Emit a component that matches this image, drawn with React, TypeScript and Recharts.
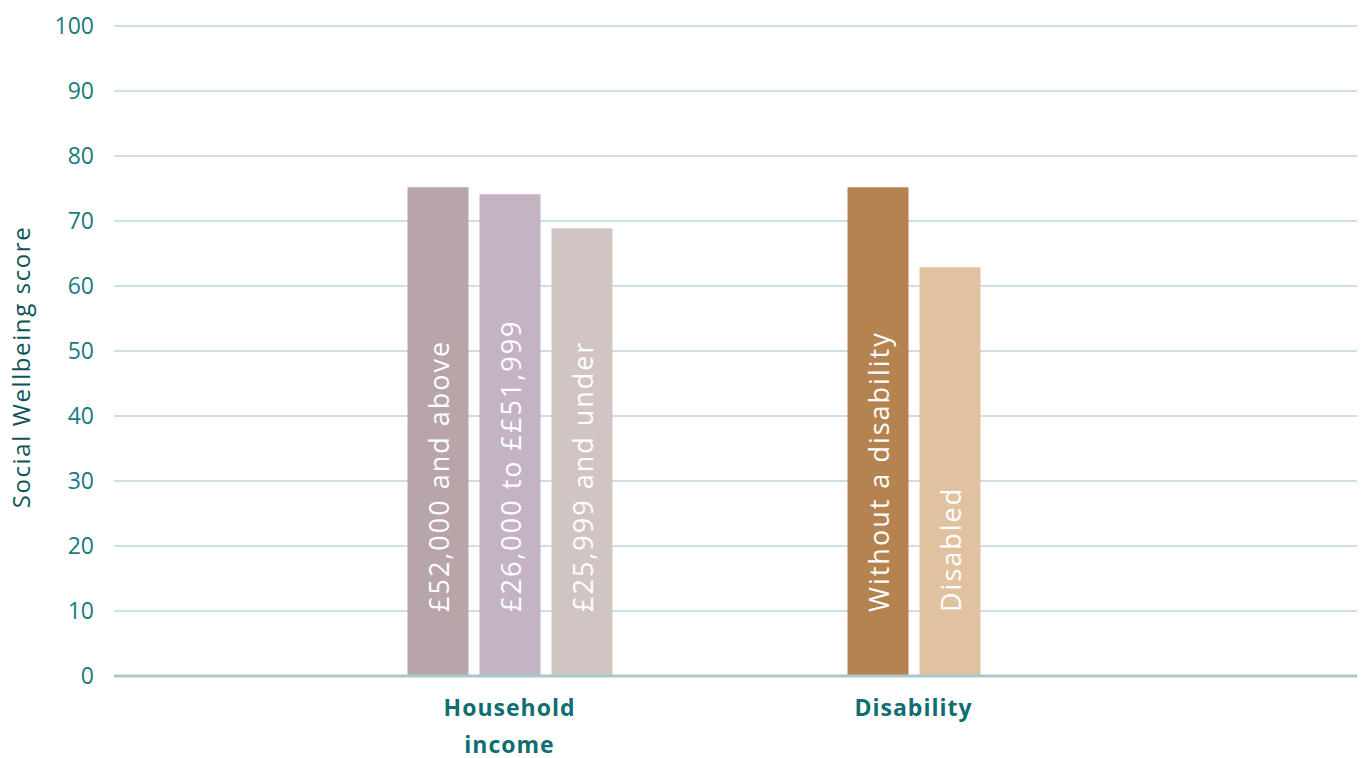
import { Bar, BarChart, CartesianGrid, Cell, LabelList, XAxis, YAxis } from "recharts";

const groups = ["Household income", "Disability"];
const incomeLabels = ["£52,000 and above", "£26,000 to ££51,999", "£25,999 and under"];
const incomeScores = [75.2, 74.1, 68.9];
const disabilityLabels = ["Without a disability", "Disabled"];
const disabilityScores = [75.2, 62.9];
const yTicks = [0, 10, 20, 30, 40, 50, 60, 70, 80, 90, 100];

const incomeColors = ["#b7a5a9", "#c4b3c3", "#d1c5c4"];
const disabilityColors = ["#b58350", "#e1c2a0"];

const FONT = "Open Sans";
const BAR = 61;
const GAP = 11;
const SLOTS = 3;

const groupLabels = [incomeLabels, disabilityLabels];
const groupScores = [incomeScores, disabilityScores];
const groupColors = [incomeColors, disabilityColors];

const data = groups.map((g, gi) => {
    const row: any = { group: g };
    groupScores[gi].forEach((v, i) => {
        row["v" + i] = v;
        row["n" + i] = groupLabels[gi][i];
    });
    return row;
});

// group label sits under the bars it has, one word per line
const GroupTick = (props: any) => {
    const { x, y, payload, index } = props;
    const count = groupScores[index] ? groupScores[index].length : SLOTS;
    const shift = -((SLOTS - count) * (BAR + GAP)) / 2;
    const words = String(payload.value).split(" ");
    return (
        <text
            x={x + shift}
            y={y + 32}
            textAnchor="middle"
            fill="#0e6e70"
            fontSize={23}
            fontWeight={700}
            letterSpacing={1}
            fontFamily={FONT}
        >
            {words.map((w, i) => (
                <tspan key={i} x={x + shift} dy={i === 0 ? 0 : 37}>
                    {w}
                </tspan>
            ))}
        </text>
    );
};

const BarText = (props: any) => {
    const { x, y, width, height, value } = props;
    if (value == null) return null;
    const cx = x + width / 2;
    const by = y + height - 64;
    return (
        <text
            x={cx}
            y={by}
            transform={`rotate(-90 ${cx} ${by})`}
            textAnchor="start"
            dominantBaseline="central"
            fill="#ffffff"
            fontSize={27}
            letterSpacing={2}
            fontFamily={FONT}
        >
            {value}
        </text>
    );
};

export default function App() {
    return (
        <BarChart
            width={1357}
            height={750}
            data={data}
            margin={{ top: 18, right: 3, left: 0, bottom: 0 }}
            barSize={BAR}
            barGap={GAP}
        >
            <CartesianGrid vertical={false} stroke="#bdd6d8" strokeWidth={1.5} />
            <XAxis
                dataKey="group"
                height={82}
                padding={{ left: 175.5, right: 192.5 }}
                axisLine={{ stroke: "#a9c7cb", strokeWidth: 3 }}
                tickLine={false}
                tick={<GroupTick />}
                interval={0}
            />
            <YAxis
                width={106}
                domain={[0, 100]}
                ticks={yTicks}
                axisLine={false}
                tickLine={false}
                tickMargin={14}
                tick={{ fill: "#1a7a7e", fontSize: 23, fontFamily: FONT }}
                label={{
                    value: "Social Wellbeing score",
                    angle: -90,
                    position: "insideLeft",
                    dx: 8,
                    dy: 16,
                    style: { textAnchor: "middle", fill: "#0c5459", fontSize: 24, letterSpacing: 1.6, fontFamily: FONT },
                }}
            />
            {[0, 1, 2].map((i) => (
                <Bar key={i} dataKey={"v" + i} isAnimationActive={false}>
                    {data.map((row, gi) => (
                        <Cell key={gi} fill={groupColors[gi][i] || "#cccccc"} />
                    ))}
                    <LabelList dataKey={"n" + i} content={<BarText />} />
                </Bar>
            ))}
        </BarChart>
    );
}
